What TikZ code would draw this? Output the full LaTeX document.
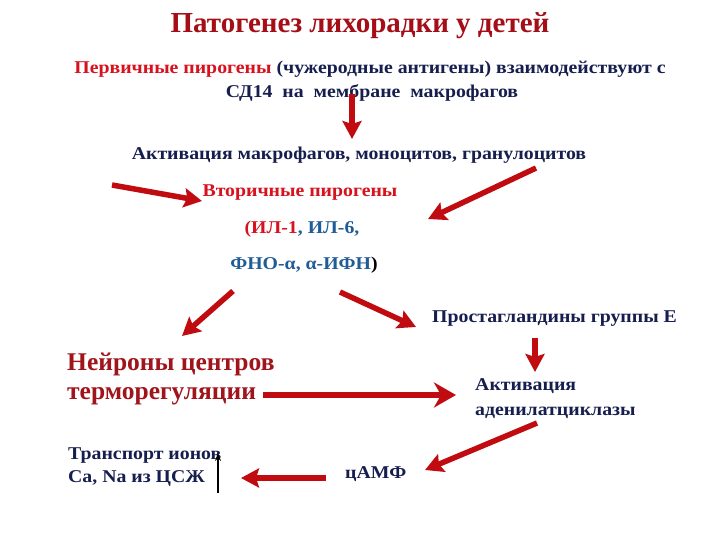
\documentclass[tikz,border=0pt]{standalone}
\usepackage{fontspec}
\setmainfont{Liberation Serif}
\newfontfamily\widefont[FakeStretch=1.1]{Liberation Serif}
\usetikzlibrary{arrows.meta}
\definecolor{titlered}{RGB}{165,14,22}
\definecolor{redA}{RGB}{215,18,30}
\definecolor{navy}{RGB}{22,30,78}
\definecolor{steel}{RGB}{32,92,150}
\definecolor{arrred}{RGB}{192,12,16}
\definecolor{neured}{RGB}{160,20,28}
\begin{document}
\begin{tikzpicture}[x=1pt,y=-1pt,
  txt/.style={inner sep=0pt, text=navy, font=\widefont\bfseries\fontsize{18}{21}\selectfont},
  ltxt/.style={txt, anchor=west, align=left},
  bigarrow/.style={draw=arrred, line width=5.5pt, -{Stealth[length=18pt,width=19pt,inset=3pt]}},
  longarrow/.style={draw=arrred, line width=6.5pt, -{Stealth[length=22pt,width=25pt,inset=7pt]}},
  thinarrow/.style={draw=black, line width=1.4pt, -{Stealth[length=8pt,width=6pt]}}]
\useasboundingbox (0,0) rectangle (720,540);
\fill[white] (0,0) rectangle (720,540);
% texts
\node[txt, text=titlered, font=\rmfamily\bfseries\fontsize{29}{32}\selectfont] (title) at (360,26) {Патогенез лихорадки у детей};
\node[txt] (prim) at (370,69) {\textcolor{redA}{Первичные пирогены} (чужеродные антигены) взаимодействуют с};
\node[txt] (cd) at (372,93) {СД14\ \ на\ \ мембране\ \ макрофагов};
\node[txt] (act) at (359,155) {Активация макрофагов, моноцитов, гранулоцитов};
\node[txt, text=redA] (sec) at (300,193) {Вторичные пирогены};
\node[txt] (il) at (302,229) {\textcolor{redA}{(ИЛ-1}\textcolor{steel}{, ИЛ-6,}};
\node[txt] (fno) at (304,265) {\textcolor{steel}{ФНО-α, α-ИФН}\textcolor{black}{)}};
\node[txt, anchor=west] (pg) at (432,319) {Простагландины группы Е};
\node[ltxt, text=neured, font=\rmfamily\bfseries\fontsize{25.5}{28.5}\selectfont] (neu) at (67,379) {Нейроны центров\\терморегуляции};
\node[ltxt, font=\widefont\bfseries\fontsize{18}{25}\selectfont] (ac) at (475,399) {Активация\\аденилатциклазы};
\node[ltxt, font=\widefont\bfseries\fontsize{18}{23}\selectfont] (tr) at (68,467) {Транспорт ионов\\Ca, Na из ЦСЖ};
\node[txt, anchor=west] (camp) at (345,474) {цАМФ};
% arrow end points
\coordinate (a1s) at (352,94);   \coordinate (a1e) at (352,139);
\coordinate (a2s) at (112,185);  \coordinate (a2e) at (202,201);
\coordinate (a3s) at (536,168);  \coordinate (a3e) at (428,219);
\coordinate (a4s) at (233,291);  \coordinate (a4e) at (182,336);
\coordinate (a5s) at (340,292);  \coordinate (a5e) at (416,327);
\coordinate (a6s) at (535,338);  \coordinate (a6e) at (535,372);
\coordinate (a7s) at (263,395);  \coordinate (a7e) at (456,395);
\coordinate (a8s) at (537,423);  \coordinate (a8e) at (425,470);
\coordinate (a9s) at (326,478);  \coordinate (a9e) at (241,478);
\coordinate (b1s) at (218,493);  \coordinate (b1e) at (218,453);
\draw[bigarrow] (a1s) -- (a1e);
\draw[bigarrow] (a2s) -- (a2e);
\draw[bigarrow] (a3s) -- (a3e);
\draw[bigarrow] (a4s) -- (a4e);
\draw[bigarrow] (a5s) -- (a5e);
\draw[bigarrow] (a6s) -- (a6e);
\draw[longarrow] (a7s) -- (a7e);
\draw[bigarrow] (a8s) -- (a8e);
\draw[bigarrow] (a9s) -- (a9e);
\draw[thinarrow] (b1s) -- (b1e);
\end{tikzpicture}
\end{document}
